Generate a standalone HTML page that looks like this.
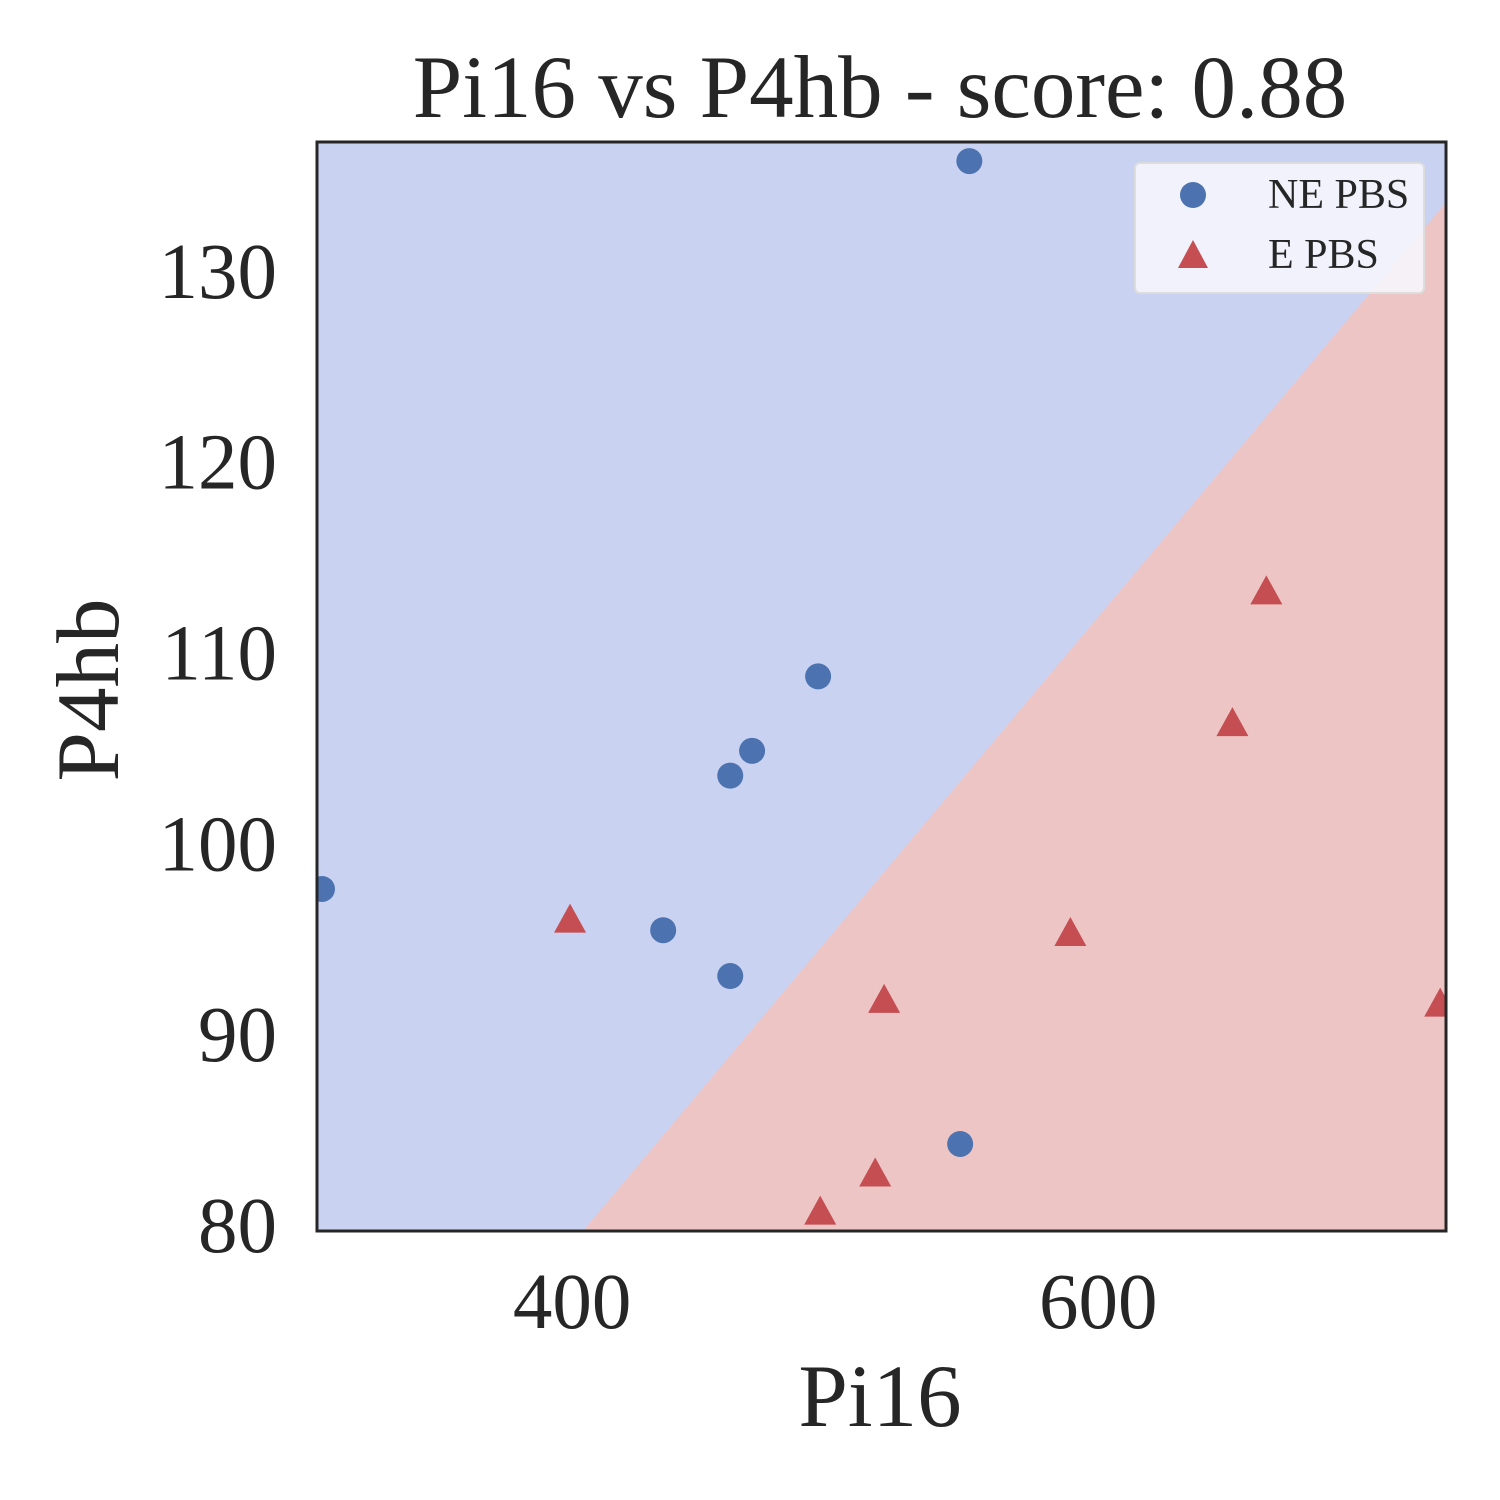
<!DOCTYPE html>
<html><head><meta charset="utf-8"><style>
html,body{margin:0;padding:0;background:#fff;overflow:hidden;width:1500px;height:1500px;}
svg{display:block;}
svg text{font-family:"Liberation Serif","DejaVu Serif",serif;fill:#262626;}
</style></head><body>
<svg id="chart" width="1500" height="1500" viewBox="0 0 1500 1500" xmlns="http://www.w3.org/2000/svg">
<defs><clipPath id="clip"><rect x="317" y="142" width="1129" height="1089"/></clipPath></defs>
<text x="880" y="117" font-size="89" text-anchor="middle">Pi16 vs P4hb - score: 0.88</text>
<g id="plot" clip-path="url(#clip)"></g>
<g id="axes"></g>
<rect x="317" y="142" width="1129" height="1089" fill="none" stroke="#262626" stroke-width="3"/>
<text x="880" y="1426" font-size="89" text-anchor="middle">Pi16</text>
<text x="0" y="0" font-size="89" text-anchor="middle" transform="translate(118,690) rotate(-90)">P4hb</text>
<g>
<rect x="1135" y="163" width="289" height="130" rx="5" fill="#f5f5fc" fill-opacity="0.9" stroke="#dddddd" stroke-width="2"/>
<circle cx="1193" cy="195" r="13" fill="#4c72b0"/>
<text x="1268" y="208" font-size="42">NE PBS</text>
<polygon points="1193,240 1208,268 1178,268" fill="#c44e52"/>
<text x="1268" y="268" font-size="42">E PBS</text>
</g>
</svg>
<script>
const xTicks=[400,600];
const yTicks=[80,90,100,110,120,130];
const boundary=[[404.1,79.74],[732,133.6]];
const neX=[304.9,434.6,460.1,460.1,468.4,493.5,551.0,547.5];
const neY=[97.66,95.5,93.1,103.6,104.9,108.8,135.8,84.3];
const eX=[399.2,518.6,515.2,494.3,589.4,651.0,663.9,730.0];
const eY=[96.0,91.8,82.7,80.7,95.3,106.3,113.2,91.6];
const X0=317,X1=1446,Y0=142,Y1=1231,xmin=303,xmax=732.2,ymin=79.74,ymax=136.8;
function sx(v){return X0+(v-xmin)/(xmax-xmin)*(X1-X0);}
function sy(v){return Y1-(v-ymin)/(ymax-ymin)*(Y1-Y0);}
const NS="http://www.w3.org/2000/svg";
const plot=document.getElementById('plot'),axes=document.getElementById('axes');
function mk(t,a,p){const e=document.createElementNS(NS,t);for(const k in a)e.setAttribute(k,a[k]);p.appendChild(e);return e;}
let bg=mk('rect',{x:X0,y:Y0,width:X1-X0,height:Y1-Y0,fill:'#c9d2f1'},plot);


const bx0=sx(boundary[0][0]),by0=sy(boundary[0][1]),bx1=sx(boundary[1][0]),by1=sy(boundary[1][1]);
const sl=(by1-by0)/(bx1-bx0);
const yAtX1=by0+sl*(X1-bx0);
const xAtY1=bx0+(Y1-by0)/sl;
let red=mk('polygon',{points:`${xAtY1},${Y1} ${X1},${Math.max(Y0,yAtX1)} ${X1},${Y1}`,fill:'#eec5c5'},plot);


neX.forEach((v,i)=>{const c=mk('circle',{cx:sx(v),cy:sy(neY[i]),r:13,fill:'#4c72b0'},plot);

});
eX.forEach((v,i)=>{const x=sx(v),y=sy(eY[i]);const t=mk('polygon',{points:`${x},${y-17} ${x+16},${y+12} ${x-16},${y+12}`,fill:'#c44e52'},plot);

});
xTicks.forEach(v=>{const t=mk('text',{x:sx(v),y:1328,'font-size':79,'text-anchor':'middle'},axes);t.textContent=v;

});
yTicks.forEach(v=>{const t=mk('text',{x:277,y:sy(v)+26,'font-size':79,'text-anchor':'end'},axes);t.textContent=v;

});
</script>
</body></html>
